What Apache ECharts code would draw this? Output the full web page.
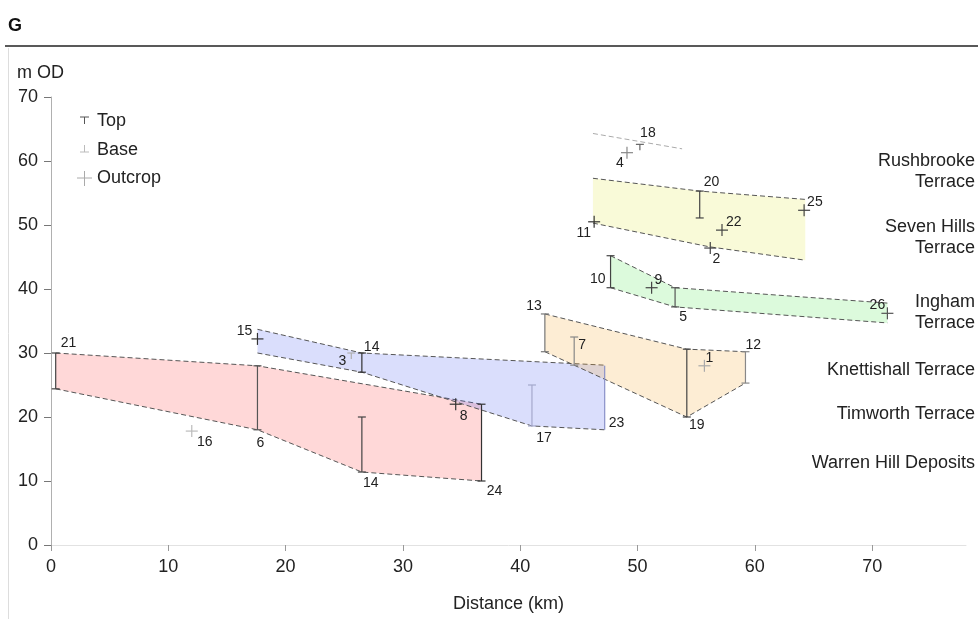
<!DOCTYPE html>
<html><head><meta charset="utf-8">
<script src="https://cdn.jsdelivr.net/npm/echarts@6/dist/echarts.min.js"></script>
<style>html,body{margin:0;padding:0;background:#fff}#c{width:978px;height:619px}</style>
</head><body><div id="c"></div>
<script>
// ---- data ----
const xTicks = [0, 10, 20, 30, 40, 50, 60, 70];
const warrenTop = [[0.4, 30], [17.6, 28], [36.7, 22]];
const warrenBase = [[0.4, 24.4], [17.6, 18], [26.5, 11.4], [36.7, 10]];
const timworthTop = [[17.6, 33.7], [26.5, 30], [47.2, 28.1]];
const timworthBase = [[17.6, 30], [26.5, 27], [41, 18.6], [47.2, 18]];
const knettishallTop = [[42.1, 36.1], [54.2, 30.6], [59.2, 30.2]];
const knettishallBase = [[42.1, 30.2], [54.2, 20], [59.2, 25.3]];
const inghamTop = [[47.7, 45.2], [53.2, 40.2], [71.3, 37.8]];
const inghamBase = [[47.7, 40.2], [53.2, 37.2], [71.3, 34.7]];
const sevenHillsTop = [[46.2, 57.3], [55.3, 55.3], [64.3, 54]];
const sevenHillsBase = [[46.2, 50.3], [56.1, 46.6], [64.3, 44.5]];
const rushbrookeTop = [[46.2, 64.3], [53.8, 61.9]];

const boreLabels = ['21', '6', '14', '24', '14', '3', '17', '23', '13', '7', '19', '12', '10', '5', '20', '18'];
const boreX      = [0.4, 17.6, 26.5, 36.7, 26.5, 25.6, 41, 47.2, 42.1, 44.6, 54.2, 59.2, 47.7, 53.2, 55.3, 50.2];
const boreTop    = [30, 28, 20, 22, 30, 30, 25, 28, 36.1, 32.5, 30.6, 30.2, 45.2, 40.2, 55.3, 62.6];
const boreBase   = [24.4, 18, 11.4, 10, 27, null, 18.6, 18, 30.2, 28.1, 20, 25.3, 40.2, 37.2, 51.1, null];

const outcropLabels = ['16', '8', '15', '1', '9', '26', '11', '22', '2', '25', '4'];
const outcropX = [12, 34.5, 17.6, 55.7, 51.2, 71.3, 46.3, 57.2, 56.2, 64.2, 49.1];
const outcropY = [17.8, 22, 32.2, 28, 40.2, 36.2, 50.5, 49.2, 46.4, 52.3, 61.3];

const terraceNames = ['Rushbrooke\nTerrace', 'Seven Hills\nTerrace', 'Ingham\nTerrace', 'Knettishall Terrace', 'Timworth Terrace', 'Warren Hill Deposits'];
const legendNames = ['Top', 'Base', 'Outcrop'];

// ---- styles (label placement / colours) ----
// [anchor, dx, dy, align, colour, caps]
const boreStyle = [
  ['t', 5, -10, 'left', '#444', 1], ['b', 3, 13, 'center', '#555', 1], ['b', 9, 11, 'center', '#444', 1],
  ['b', 13, 10, 'center', '#333', 1], ['t', 2, -6, 'left', '#333', 1], ['t', -9, 8, 'center', '#b0b0b0', 1],
  ['b', 12, 12, 'center', '#a4a8cc', 1], ['b', 4, -7, 'left', '#8a90c8', 0], ['t', -3, -8, 'right', '#777', 1],
  ['t', 4, 8, 'left', '#888', 1], ['b', 10, 8, 'center', '#444', 1], ['t', 0, -7, 'left', '#888', 1],
  ['b', -5, -9, 'right', '#444', 1], ['b', 8, 10, 'center', '#555', 1], ['t', 4, -9, 'left', '#444', 1],
  ['t', 8, -11, 'center', '#666', 1]
];
const outcropStyle = [
  [13, 11, 'center', '#bbb'], [8, 12, 'center', '#333'], [-13, -8, 'center', '#333'], [1, -8, 'left', '#aaa'],
  [3, -8, 'left', '#444'], [-10, -8, 'center', '#555'], [-3, 11, 'right', '#333'], [4, -8, 'left', '#444'],
  [6, 11, 'center', '#444'], [3, -8, 'left', '#444'], [-7, 10, 'center', '#888']
];
const FONT = '"Liberation Sans", Arial, sans-serif';
const TXT = '#222';

function polySeries(top, base, fill) {
  return {
    type: 'custom', coordinateSystem: 'cartesian2d', silent: true, z: 1,
    data: [top[0]],
    renderItem: function (params, api) {
      const t = top.map(p => api.coord(p));
      const b = base.map(p => api.coord(p));
      const children = [];
      if (fill) children.push({ type: 'polygon', shape: { points: t.concat(b.slice().reverse()) }, style: { fill: fill } });
      children.push({ type: 'polyline', shape: { points: t }, style: { stroke: fill ? '#555' : '#aaa', lineWidth: 1, lineDash: [5, 3], fill: null } });
      if (b.length) children.push({ type: 'polyline', shape: { points: b }, style: { stroke: '#555', lineWidth: 1, lineDash: [5, 3], fill: null } });
      return { type: 'group', children: children };
    }
  };
}

const boreData = boreX.map((x, i) => [x, boreTop[i], boreBase[i] == null ? boreTop[i] : boreBase[i]]);
const outcropData = outcropX.map((x, i) => [x, outcropY[i]]);

const option = {
  animation: false,
  grid: { left: 51, right: 12, top: 97, bottom: 74 },
  xAxis: {
    type: 'value', min: 0, max: 78, interval: 10,
    axisLine: { show: true, lineStyle: { color: '#e2e2e2', width: 1 } },
    axisTick: { show: true, length: 6, customValues: xTicks, lineStyle: { color: '#999' } },
    axisLabel: { customValues: xTicks, fontSize: 18, color: TXT, fontFamily: FONT, margin: 13 },
    splitLine: { show: false },
    name: 'Distance (km)', nameLocation: 'middle', nameGap: 50,
    nameTextStyle: { fontSize: 18, color: TXT, fontFamily: FONT }
  },
  yAxis: {
    type: 'value', min: 0, max: 70, interval: 10,
    axisLine: { show: true, lineStyle: { color: '#b0b0b0', width: 1 } },
    axisTick: { show: true, length: 7, lineStyle: { color: '#777' } },
    axisLabel: { fontSize: 18, color: TXT, fontFamily: FONT, margin: 13 },
    splitLine: { show: false }
  },
  series: [
    polySeries(warrenTop, warrenBase, 'rgba(255,60,60,0.2)'),
    polySeries(timworthTop, timworthBase, 'rgba(70,90,240,0.2)'),
    polySeries(knettishallTop, knettishallBase, 'rgba(245,175,60,0.22)'),
    polySeries(inghamTop, inghamBase, 'rgba(60,225,60,0.18)'),
    polySeries(sevenHillsTop, sevenHillsBase, 'rgba(225,230,60,0.2)'),
    polySeries(rushbrookeTop, [], null),
    {
      type: 'custom', coordinateSystem: 'cartesian2d', silent: true, z: 3,
      data: boreData,
      renderItem: function (params, api) {
        const i = params.dataIndex;
        const st = boreStyle[i];
        const p1 = api.coord([api.value(0), api.value(1)]);
        const topOnly = boreBase[i] == null;
        const p2 = topOnly ? [p1[0], p1[1] + 6] : api.coord([api.value(0), api.value(2)]);
        const col = st[4];
        const ch = [
          { type: 'line', shape: { x1: p1[0], y1: p1[1], x2: p2[0], y2: p2[1] }, style: { stroke: col, lineWidth: 1.2 } }
        ];
        if (st[5]) {
          ch.push({ type: 'line', shape: { x1: p1[0] - 4, y1: p1[1], x2: p1[0] + 4, y2: p1[1] }, style: { stroke: col, lineWidth: 1.2 } });
          if (!topOnly) ch.push({ type: 'line', shape: { x1: p2[0] - 4, y1: p2[1], x2: p2[0] + 4, y2: p2[1] }, style: { stroke: col, lineWidth: 1.2 } });
        }
        const a = st[0] === 't' ? p1 : p2;
        ch.push({ type: 'text', style: { text: boreLabels[i], x: a[0] + st[1], y: a[1] + st[2], align: st[3], verticalAlign: 'middle', font: '14px ' + FONT, fill: TXT } });
        return { type: 'group', children: ch };
      }
    },
    {
      type: 'custom', coordinateSystem: 'cartesian2d', silent: true, z: 4,
      data: outcropData,
      renderItem: function (params, api) {
        const i = params.dataIndex;
        const st = outcropStyle[i];
        const p = api.coord([api.value(0), api.value(1)]);
        const h = 6;
        return { type: 'group', children: [
          { type: 'line', shape: { x1: p[0] - h, y1: p[1], x2: p[0] + h, y2: p[1] }, style: { stroke: st[3], lineWidth: 1.2 } },
          { type: 'line', shape: { x1: p[0], y1: p[1] - h, x2: p[0], y2: p[1] + h }, style: { stroke: st[3], lineWidth: 1.2 } },
          { type: 'text', style: { text: outcropLabels[i], x: p[0] + st[0], y: p[1] + st[1], align: st[2], verticalAlign: 'middle', font: '14px ' + FONT, fill: TXT } }
        ] };
      }
    }
  ],
  graphic: [
    { type: 'text', left: 8, top: 17, style: { text: 'G', font: 'bold 18px ' + FONT, fill: '#111' } },
    { type: 'line', shape: { x1: 5, y1: 46, x2: 978, y2: 46 }, style: { stroke: '#222', lineWidth: 1.5 } },
    { type: 'line', shape: { x1: 8.5, y1: 48, x2: 8.5, y2: 619 }, style: { stroke: '#ddd', lineWidth: 1 } },
    { type: 'text', left: 17, top: 64, style: { text: 'm OD', font: '18px ' + FONT, fill: TXT } },
    // legend
    { type: 'line', shape: { x1: 80, y1: 117, x2: 89, y2: 117 }, style: { stroke: '#555', lineWidth: 1 } },
    { type: 'line', shape: { x1: 84.5, y1: 117, x2: 84.5, y2: 124 }, style: { stroke: '#555', lineWidth: 1 } },
    { type: 'line', shape: { x1: 80, y1: 152, x2: 89, y2: 152 }, style: { stroke: '#bbb', lineWidth: 1 } },
    { type: 'line', shape: { x1: 84.5, y1: 145, x2: 84.5, y2: 152 }, style: { stroke: '#bbb', lineWidth: 1 } },
    { type: 'line', shape: { x1: 77, y1: 178, x2: 92, y2: 178 }, style: { stroke: '#aaa', lineWidth: 1 } },
    { type: 'line', shape: { x1: 84.5, y1: 171, x2: 84.5, y2: 186 }, style: { stroke: '#aaa', lineWidth: 1 } },
    { type: 'text', style: { text: legendNames[0], x: 97, y: 121, verticalAlign: 'middle', font: '18px ' + FONT, fill: TXT } },
    { type: 'text', style: { text: legendNames[1], x: 97, y: 150, verticalAlign: 'middle', font: '18px ' + FONT, fill: TXT } },
    { type: 'text', style: { text: legendNames[2], x: 97, y: 178, verticalAlign: 'middle', font: '18px ' + FONT, fill: TXT } },
    // terrace names
    { type: 'text', style: { text: terraceNames[0], x: 975, y: 172, align: 'right', verticalAlign: 'middle', lineHeight: 21, font: '18px ' + FONT, fill: TXT } },
    { type: 'text', style: { text: terraceNames[1], x: 975, y: 238, align: 'right', verticalAlign: 'middle', lineHeight: 21, font: '18px ' + FONT, fill: TXT } },
    { type: 'text', style: { text: terraceNames[2], x: 975, y: 313, align: 'right', verticalAlign: 'middle', lineHeight: 21, font: '18px ' + FONT, fill: TXT } },
    { type: 'text', style: { text: terraceNames[3], x: 975, y: 370, align: 'right', verticalAlign: 'middle', font: '18px ' + FONT, fill: TXT } },
    { type: 'text', style: { text: terraceNames[4], x: 975, y: 414, align: 'right', verticalAlign: 'middle', font: '18px ' + FONT, fill: TXT } },
    { type: 'text', style: { text: terraceNames[5], x: 975, y: 463, align: 'right', verticalAlign: 'middle', font: '18px ' + FONT, fill: TXT } }
  ]
};
const chart = echarts.init(document.getElementById('c'), null, { renderer: 'canvas' });
chart.setOption(option);
</script>
</body></html>
